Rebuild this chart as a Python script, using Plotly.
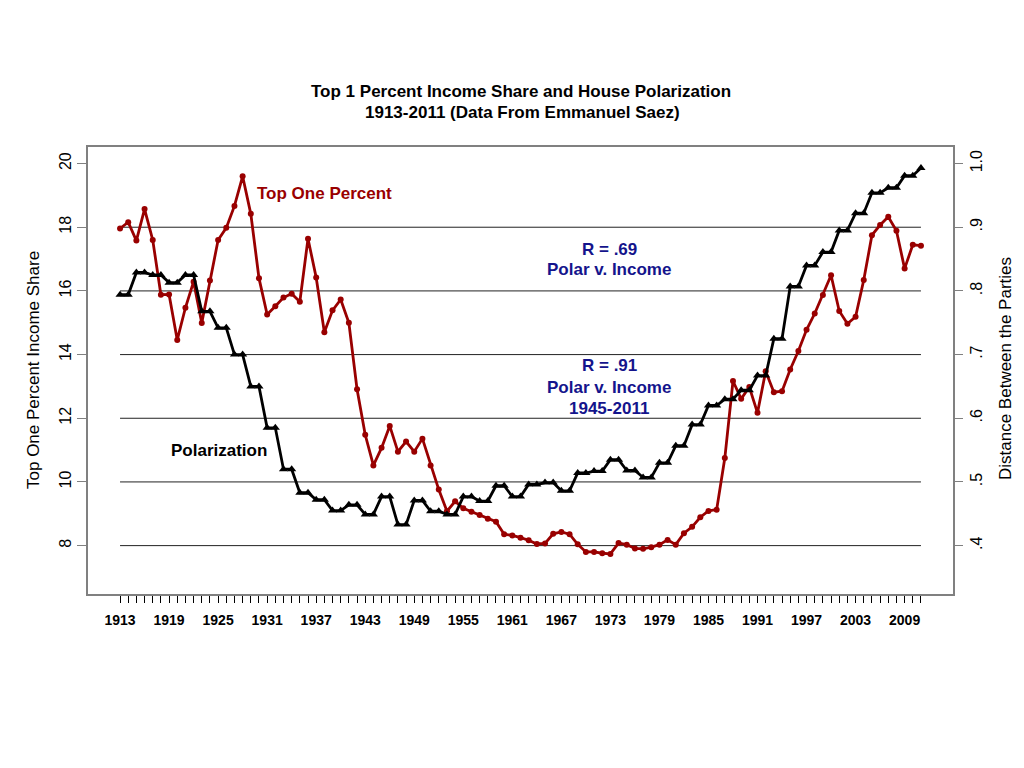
import plotly.graph_objects as go

years = list(range(1913, 2012))

top1_share = [
    17.96, 18.16, 17.58, 18.57, 17.60, 15.88, 15.89, 14.46, 15.47, 16.29,
    14.99, 16.33, 17.60, 17.98, 18.67, 19.60, 18.42, 16.40, 15.26, 15.52,
    15.79, 15.91, 15.66, 17.64, 16.42, 14.70, 15.39, 15.73, 15.00, 12.91,
    11.48, 10.52, 11.07, 11.76, 10.95, 11.27, 10.95, 11.36, 10.52, 9.76,
    9.08, 9.39, 9.17, 9.06, 8.96, 8.84, 8.75, 8.36, 8.32, 8.25,
    8.17, 8.05, 8.07, 8.37, 8.43, 8.36, 8.04, 7.80, 7.80, 7.76,
    7.74, 8.08, 8.03, 7.91, 7.90, 7.95, 8.03, 8.18, 8.03, 8.39,
    8.59, 8.89, 9.09, 9.13, 10.75, 13.17, 12.61, 12.98, 12.17, 13.48,
    12.82, 12.85, 13.53, 14.11, 14.78, 15.29, 15.87, 16.49, 15.37, 14.97,
    15.19, 16.34, 17.75, 18.07, 18.33, 17.89, 16.70, 17.45, 17.42,
]

polarization = [
    0.794, 0.794, 0.829, 0.829, 0.825, 0.825, 0.813, 0.813, 0.825, 0.825,
    0.768, 0.768, 0.742, 0.742, 0.700, 0.700, 0.650, 0.650, 0.585, 0.585,
    0.520, 0.520, 0.483, 0.483, 0.472, 0.472, 0.455, 0.455, 0.464, 0.464,
    0.449, 0.449, 0.477, 0.477, 0.433, 0.433, 0.471, 0.471, 0.454, 0.454,
    0.449, 0.449, 0.477, 0.477, 0.470, 0.470, 0.494, 0.494, 0.477, 0.477,
    0.496, 0.496, 0.499, 0.499, 0.486, 0.486, 0.514, 0.514, 0.517, 0.517,
    0.535, 0.535, 0.518, 0.518, 0.507, 0.507, 0.530, 0.530, 0.557, 0.557,
    0.590, 0.590, 0.620, 0.620, 0.630, 0.630, 0.644, 0.644, 0.667, 0.667,
    0.725, 0.725, 0.807, 0.807, 0.840, 0.840, 0.861, 0.861, 0.895, 0.895,
    0.922, 0.922, 0.954, 0.954, 0.962, 0.962, 0.981, 0.981, 0.993,
]

x_label_years = [1913, 1919, 1925, 1931, 1937, 1943, 1949, 1955, 1961, 1967,
                 1973, 1979, 1985, 1991, 1997, 2003, 2009]
left_ticks = [8, 10, 12, 14, 16, 18, 20]
left_ticktext = ["8", "10", "12", "14", "16", "18", "20"]
right_ticks = [0.4, 0.5, 0.6, 0.7, 0.8, 0.9, 1.0]
right_ticktext = [".4", ".5", ".6", ".7", ".8", ".9", "1.0"]
grid_levels = [8, 10, 12, 14, 16, 18]

FONT = "Liberation Sans, Arial, sans-serif"
RED = "#990000"
BLUE = "#14148C"

x_range = [1909.08, 2014.92]
y_range = [6.48, 20.52]
y2_range = [y_range[0] / 20, y_range[1] / 20]

fig = go.Figure()

fig.add_trace(go.Scatter(
    x=years, y=top1_share, mode="lines+markers",
    line=dict(color=RED, width=2.8),
    marker=dict(color=RED, size=6, symbol="circle"),
    showlegend=False, yaxis="y",
))
fig.add_trace(go.Scatter(
    x=years, y=polarization, mode="lines+markers",
    line=dict(color="black", width=2.8),
    marker=dict(color="black", size=8, symbol="triangle-up"),
    showlegend=False, yaxis="y2",
))

for g in grid_levels:
    fig.add_shape(type="line", xref="x", yref="y",
                  x0=years[0], x1=years[-1], y0=g, y1=g,
                  line=dict(color="#222222", width=1), layer="below")

ticktext = [f"{y}" if y in x_label_years else "" for y in years]

# The page body has an 8px margin, so the figure is sized to fit inside it.
fig.update_layout(
    width=1008, height=752, autosize=False,
    margin=dict(l=80, r=63, t=139, b=166, pad=0),
    paper_bgcolor="white", plot_bgcolor="white",
    font=dict(family=FONT, color="black"),
    xaxis=dict(
        range=x_range, tickmode="array", tickvals=years, ticktext=ticktext,
        ticks="outside", ticklen=7, tickwidth=1, tickcolor="black",
        ticklabelstandoff=5,
        tickfont=dict(family=FONT, size=14, weight="bold", color="black"),
        showline=True, linecolor="#808080", linewidth=1.5, mirror=True,
        showgrid=False, zeroline=False, tickangle=0,
    ),
    yaxis=dict(
        range=y_range, tickmode="array", tickvals=left_ticks, ticktext=left_ticktext,
        ticks="outside", ticklen=9, tickcolor="#808080", tickangle=-90,
        tickfont=dict(family=FONT, size=16, color="black"),
        showline=True, linecolor="#808080", linewidth=1.5, mirror=True,
        showgrid=False, zeroline=False,
    ),
    yaxis2=dict(
        range=y2_range, overlaying="y", side="right",
        tickmode="array", tickvals=right_ticks, ticktext=right_ticktext,
        ticks="outside", ticklen=9, tickcolor="#808080", tickangle=-90,
        tickfont=dict(family=FONT, size=16, color="black"),
        showline=False, showgrid=False, zeroline=False,
    ),
)

# page pixel -> paper coordinates (plot area spans page x 88..953, y 147..594)
def pax(X):
    return (X - 88) / 865.0

def pay(Y):
    return (594 - Y) / 447.0

annotations = [
    dict(text="Top 1 Percent Income Share and House Polarization", x=pax(521), y=pay(91),
         font=dict(size=17, weight="bold")),
    dict(text="1913-2011 (Data From Emmanuel Saez)", x=pax(522), y=pay(113),
         font=dict(size=17, weight="bold")),
    dict(text="Top One Percent Income Share", x=pax(33), y=pay(370), textangle=-90,
         font=dict(size=17)),
    dict(text="Distance Between the Parties", x=pax(1005), y=pay(369), textangle=-90,
         font=dict(size=17)),
]
for a in annotations:
    a.update(xref="paper", yref="paper", showarrow=False, xanchor="center", yanchor="middle")
    a["font"] = dict(family=FONT, color="black", **a["font"])
    fig.add_annotation(**a)

labels = [
    ("Top One Percent", 1938.0, 19.06, RED),
    ("Polarization", 1925.06, 10.98, "black"),
    ("R = .69", 1972.85, 17.30, BLUE),
    ("Polar v. Income", 1972.85, 16.67, BLUE),
    ("R = .91", 1972.85, 13.65, BLUE),
    ("Polar v. Income", 1972.85, 12.96, BLUE),
    ("1945-2011", 1972.85, 12.30, BLUE),
]
for txt, xv, yv, col in labels:
    fig.add_annotation(text=txt, x=xv, y=yv, xref="x", yref="y", showarrow=False,
                       xanchor="center", yanchor="middle",
                       font=dict(family=FONT, size=17, weight="bold", color=col))

fig.write_html("out.html")
